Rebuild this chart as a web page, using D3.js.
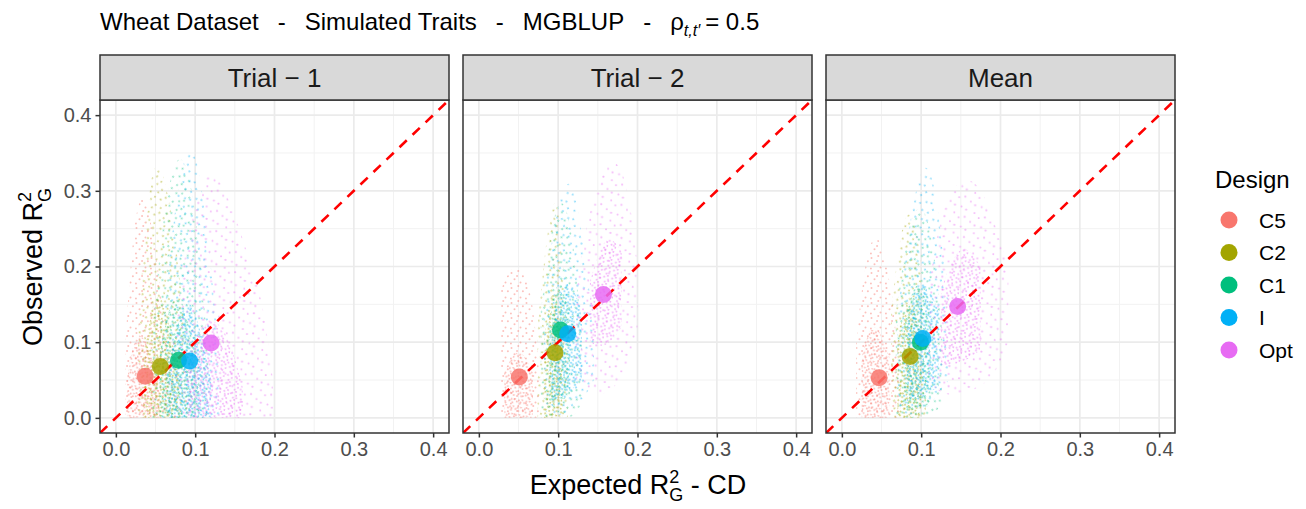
<!DOCTYPE html>
<html>
<head>
<meta charset="utf-8">
<script src="https://cdn.jsdelivr.net/npm/d3@7"></script>
<style>
  body { margin: 0; background: #fff; }
  text { font-family: "Liberation Sans", Arial, sans-serif; }
</style>
</head>
<body>
<svg id="chart"></svg>
<script>
// categories
const designs = ["C5", "C2", "C1", "I", "Opt"];
const colors = ["#F8766D", "#A3A500", "#00BF7D", "#00B0F6", "#E76BF3"];
const facets = ["Trial \u2212 1", "Trial \u2212 2", "Mean"];
const tickValues = [0, 0.1, 0.2, 0.3, 0.4];

// mean point of every design (expected, observed)
const trial1Expected = [0.037, 0.056, 0.079, 0.093, 0.120];
const trial1Observed = [0.055, 0.068, 0.076, 0.075, 0.099];
const trial2Expected = [0.051, 0.096, 0.103, 0.112, 0.157];
const trial2Observed = [0.054, 0.086, 0.116, 0.111, 0.163];
const meanExpected = [0.047, 0.086, 0.099, 0.102, 0.146];
const meanObserved = [0.053, 0.081, 0.100, 0.105, 0.147];

// replicate clouds read off the picture as columns [expected, observed low, observed high]
// outer = whole spread of the cloud, core = where it is dense
const trial1Outer = [
  [[0.012, 0, 0.10], [0.022, 0, 0.26], [0.035, 0, 0.31], [0.048, 0, 0.24], [0.060, 0, 0.14], [0.068, 0, 0.05]],
  [[0.028, 0, 0.12], [0.040, 0, 0.30], [0.052, 0, 0.35], [0.066, 0, 0.30], [0.080, 0, 0.20], [0.090, 0, 0.08]],
  [[0.045, 0, 0.10], [0.060, 0, 0.28], [0.078, 0, 0.36], [0.095, 0, 0.32], [0.108, 0, 0.20], [0.118, 0, 0.06]],
  [[0.058, 0, 0.10], [0.075, 0, 0.30], [0.095, 0, 0.38], [0.110, 0, 0.30], [0.122, 0, 0.18], [0.132, 0, 0.06]],
  [[0.070, 0, 0.08], [0.090, 0, 0.25], [0.115, 0, 0.34], [0.140, 0, 0.30], [0.165, 0, 0.22], [0.185, 0, 0.16], [0.198, 0, 0.05]]
];
const trial1Core = [
  [[0.014, 0, 0.05], [0.025, 0, 0.12], [0.040, 0, 0.10], [0.055, 0, 0.04]],
  [[0.035, 0, 0.08], [0.050, 0, 0.18], [0.065, 0, 0.14], [0.080, 0, 0.05]],
  [[0.055, 0, 0.08], [0.070, 0, 0.17], [0.090, 0, 0.15], [0.105, 0, 0.05]],
  [[0.065, 0, 0.06], [0.085, 0, 0.16], [0.100, 0, 0.15], [0.120, 0, 0.05]],
  [[0.090, 0, 0.06], [0.110, 0, 0.14], [0.140, 0, 0.12], [0.160, 0, 0.04]]
];
const trial2Outer = [
  [[0.028, 0, 0.17], [0.040, 0, 0.20], [0.055, 0, 0.20], [0.068, 0, 0.16], [0.076, 0, 0.06]],
  [[0.074, 0, 0.12], [0.085, 0, 0.24], [0.097, 0, 0.31], [0.106, 0, 0.22], [0.112, 0, 0.08]],
  [[0.078, 0, 0.14], [0.092, 0, 0.26], [0.105, 0, 0.30], [0.120, 0, 0.24], [0.130, 0.02, 0.10]],
  [[0.082, 0.01, 0.16], [0.098, 0, 0.28], [0.115, 0.01, 0.33], [0.130, 0.02, 0.25], [0.145, 0.05, 0.12]],
  [[0.122, 0.05, 0.16], [0.137, 0.03, 0.27], [0.160, 0.03, 0.34], [0.180, 0.05, 0.34], [0.193, 0.08, 0.27], [0.200, 0.12, 0.20]]
];
const trial2Core = [
  [[0.032, 0, 0.06], [0.050, 0, 0.10], [0.068, 0, 0.06]],
  [[0.082, 0, 0.10], [0.095, 0, 0.20], [0.105, 0, 0.10]],
  [[0.088, 0.02, 0.12], [0.100, 0.02, 0.20], [0.115, 0.03, 0.14]],
  [[0.092, 0.02, 0.12], [0.110, 0.03, 0.20], [0.130, 0.05, 0.14]],
  [[0.140, 0.10, 0.18], [0.160, 0.09, 0.25], [0.180, 0.12, 0.22]]
];
const meanOuter = [
  [[0.018, 0, 0.10], [0.030, 0, 0.22], [0.045, 0, 0.25], [0.058, 0, 0.20], [0.068, 0, 0.12], [0.074, 0, 0.04]],
  [[0.062, 0, 0.14], [0.075, 0, 0.26], [0.088, 0, 0.28], [0.100, 0, 0.22], [0.106, 0, 0.10]],
  [[0.068, 0, 0.14], [0.085, 0, 0.26], [0.100, 0, 0.29], [0.115, 0, 0.24], [0.126, 0.02, 0.12]],
  [[0.070, 0.01, 0.14], [0.088, 0, 0.28], [0.105, 0.01, 0.35], [0.120, 0.03, 0.30], [0.135, 0.05, 0.14]],
  [[0.108, 0.05, 0.16], [0.125, 0.03, 0.28], [0.150, 0.03, 0.32], [0.175, 0.04, 0.31], [0.195, 0.06, 0.25], [0.210, 0.10, 0.20]]
];
const meanCore = [
  [[0.025, 0, 0.08], [0.040, 0, 0.14], [0.060, 0, 0.08]],
  [[0.070, 0, 0.10], [0.085, 0, 0.18], [0.100, 0, 0.10]],
  [[0.078, 0.01, 0.12], [0.095, 0.01, 0.20], [0.112, 0.02, 0.13]],
  [[0.082, 0.02, 0.12], [0.100, 0.03, 0.20], [0.122, 0.04, 0.14]],
  [[0.125, 0.07, 0.17], [0.150, 0.07, 0.24], [0.175, 0.09, 0.20]]
];

const panels = [
  {label: facets[0], ex: trial1Expected, ob: trial1Observed, outer: trial1Outer, core: trial1Core},
  {label: facets[1], ex: trial2Expected, ob: trial2Observed, outer: trial2Outer, core: trial2Core},
  {label: facets[2], ex: meanExpected, ob: meanObserved, outer: meanOuter, core: meanCore}
];

const width = 1306, height = 509;
const panelW = 349, gap = 14, left0 = 100;
const stripTop = 55, panelTop = 100, panelBottom = 433;

const svg = d3.select("#chart").attr("width", width).attr("height", height);
const defs = svg.append("defs");

// dotted textures so the clouds read as scattered points
const jitter = [[0.1, 0.2], [0.55, 0.07], [0.86, 0.42], [0.3, 0.62], [0.7, 0.84], [0.06, 0.9], [0.47, 0.4]];
colors.forEach((c, i) => {
  [["sparse", 15 + i * 1.3, 0.45], ["dense", 7.5 + (i % 3) * 0.7, 0.5]].forEach(([kind, s, op]) => {
    const p = defs.append("pattern")
      .attr("id", `pat-${kind}-${i}`)
      .attr("patternUnits", "userSpaceOnUse")
      .attr("width", s).attr("height", s)
      .attr("patternTransform", `rotate(${i * 23 + (kind == "dense" ? 11 : 0)})`);
    p.selectAll("circle")
      .data(kind == "sparse" ? jitter : jitter.slice(0, 4))
      .join("circle")
      .attr("cx", d => d[0] * s).attr("cy", d => d[1] * s)
      .attr("r", 1)
      .attr("fill", c)
      .attr("fill-opacity", op);
  });
});

const fmt = d3.format(".1f");

panels.forEach((pn, k) => {
  const left = left0 + k * (panelW + gap);
  const x = d3.scaleLinear().domain([-0.02, 0.42]).range([left, left + panelW]);
  const y = d3.scaleLinear().domain([-0.02, 0.42]).range([panelBottom, panelTop]);

  const g = svg.append("g");

  defs.append("clipPath").attr("id", `clip-${k}`)
    .append("rect").attr("x", left).attr("y", panelTop).attr("width", panelW).attr("height", panelBottom - panelTop);

  g.append("rect").attr("x", left).attr("y", panelTop).attr("width", panelW).attr("height", panelBottom - panelTop)
    .attr("fill", "#fff");

  // grid
  const minor = [0.05, 0.15, 0.25, 0.35];
  g.selectAll(".minor-v").data(minor).join("line")
    .attr("x1", d => x(d)).attr("x2", d => x(d)).attr("y1", panelTop).attr("y2", panelBottom)
    .attr("stroke", "#F2F2F2").attr("stroke-width", 1);
  g.selectAll(".minor-h").data(minor).join("line")
    .attr("y1", d => y(d)).attr("y2", d => y(d)).attr("x1", left).attr("x2", left + panelW)
    .attr("stroke", "#F2F2F2").attr("stroke-width", 1);
  g.selectAll(".major-v").data(tickValues).join("line")
    .attr("x1", d => x(d)).attr("x2", d => x(d)).attr("y1", panelTop).attr("y2", panelBottom)
    .attr("stroke", "#EBEBEB").attr("stroke-width", 1.7);
  g.selectAll(".major-h").data(tickValues).join("line")
    .attr("y1", d => y(d)).attr("y2", d => y(d)).attr("x1", left).attr("x2", left + panelW)
    .attr("stroke", "#EBEBEB").attr("stroke-width", 1.7);

  const plot = g.append("g").attr("clip-path", `url(#clip-${k})`);

  const area = d3.area()
    .x(d => x(d[0])).y0(d => y(d[1])).y1(d => y(d[2]))
    .curve(d3.curveBasis);

  designs.forEach((d, i) => {
    plot.append("path").attr("d", area(pn.outer[i])).attr("fill", `url(#pat-sparse-${i})`);
    plot.append("path").attr("d", area(pn.core[i])).attr("fill", `url(#pat-dense-${i})`);
  });

  // y = x reference
  plot.append("line")
    .attr("x1", x(-0.02)).attr("y1", y(-0.02)).attr("x2", x(0.42)).attr("y2", y(0.42))
    .attr("stroke", "#FF0000").attr("stroke-width", 2.6).attr("stroke-dasharray", "10,8");

  plot.selectAll(".mean").data(designs).join("circle")
    .attr("cx", (d, i) => x(pn.ex[i])).attr("cy", (d, i) => y(pn.ob[i]))
    .attr("r", 8.5)
    .attr("fill", (d, i) => colors[i])
    .attr("fill-opacity", 0.85);

  g.append("rect").attr("x", left).attr("y", panelTop).attr("width", panelW).attr("height", panelBottom - panelTop)
    .attr("fill", "none").attr("stroke", "#333333").attr("stroke-width", 1.5);

  // strip
  g.append("rect").attr("x", left).attr("y", stripTop).attr("width", panelW).attr("height", panelTop - stripTop)
    .attr("fill", "#D9D9D9").attr("stroke", "#333333").attr("stroke-width", 1.5);
  g.append("text").attr("x", left + panelW / 2).attr("y", (stripTop + panelTop) / 2 + 9.5)
    .attr("text-anchor", "middle").attr("font-size", 26).attr("fill", "#1A1A1A")
    .text(pn.label);

  // x axis
  const xa = svg.append("g").attr("transform", `translate(0,${panelBottom})`)
    .call(d3.axisBottom(x).tickValues(tickValues).tickFormat(fmt).tickSize(4.5).tickPadding(4));
  xa.select(".domain").remove();
  xa.selectAll("line").attr("stroke", "#333333").attr("stroke-width", 1.5);
  xa.selectAll("text").attr("font-size", 20).attr("fill", "#4D4D4D").attr("font-family", null);

  if (k == 0) {
    const ya = svg.append("g").attr("transform", `translate(${left},0)`)
      .call(d3.axisLeft(y).tickValues(tickValues).tickFormat(fmt).tickSize(4.5).tickPadding(4));
    ya.select(".domain").remove();
    ya.selectAll("line").attr("stroke", "#333333").attr("stroke-width", 1.5);
    ya.selectAll("text").attr("font-size", 20).attr("fill", "#4D4D4D").attr("font-family", null);
  }
});

// title, pieces separated by the wide plotmath gaps
const title = svg.append("text").attr("x", 100).attr("y", 30).attr("font-size", 24).attr("fill", "#000");
["Wheat Dataset", "-", "Simulated Traits", "-", "MGBLUP", "-"].forEach((s, i) => {
  title.append("tspan").attr("dx", i == 0 ? 0 : 19).text(s);
});
title.append("tspan").attr("dx", 19).text("\u03C1");
title.append("tspan").attr("font-size", 16).attr("font-style", "italic").attr("dy", 6).text("t,t\u2032");
title.append("tspan").attr("dy", -6).attr("dx", 5).text("= 0.5");

// x axis title
const xt = svg.append("text").attr("x", 638).attr("y", 494).attr("text-anchor", "middle")
  .attr("font-size", 27).attr("fill", "#000");
xt.append("tspan").text("Expected R");
xt.append("tspan").attr("font-size", 18).attr("dy", -11).text("2");
xt.append("tspan").attr("font-size", 18).attr("dx", -10).attr("dy", 18).text("G");
xt.append("tspan").attr("dy", -7).text(" - CD");

// y axis title
const yt = svg.append("text").attr("transform", "translate(42,267) rotate(-90)")
  .attr("text-anchor", "middle").attr("font-size", 27).attr("fill", "#000");
yt.append("tspan").text("Observed R");
yt.append("tspan").attr("font-size", 18).attr("dy", -11).text("2");
yt.append("tspan").attr("font-size", 18).attr("dx", -10).attr("dy", 20).text("G");

// legend
const lg = svg.append("g");
lg.append("text").attr("x", 1215).attr("y", 188).attr("font-size", 24).attr("fill", "#000").text("Design");
lg.selectAll(".key").data(designs).join("circle")
  .attr("cx", 1229).attr("cy", (d, i) => 220 + i * 32.5).attr("r", 8.5)
  .attr("fill", (d, i) => colors[i]);
lg.selectAll(".lab").data(designs).join("text")
  .attr("x", 1259).attr("y", (d, i) => 220 + i * 32.5 + 7.5)
  .attr("font-size", 21).attr("fill", "#000").text(d => d);
</script>
</body>
</html>
